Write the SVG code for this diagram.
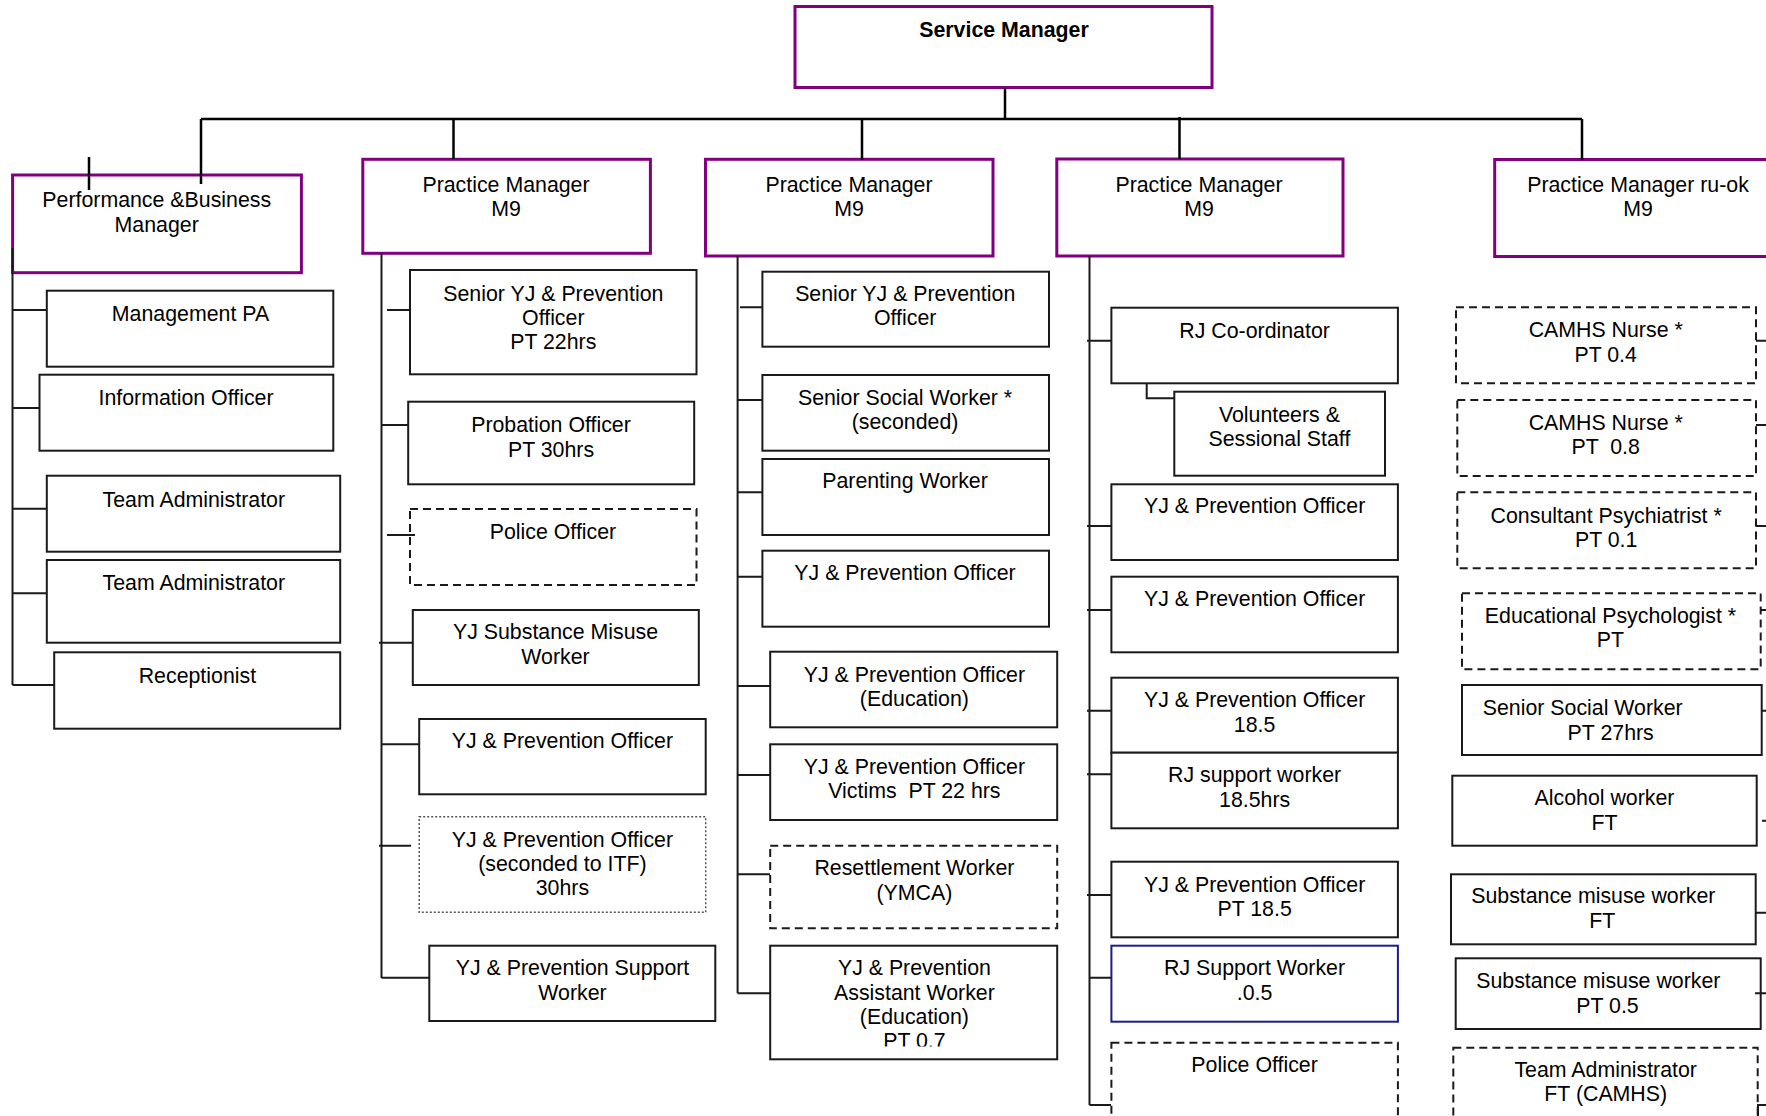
<svg xmlns="http://www.w3.org/2000/svg" width="1766" height="1116" viewBox="0 0 1766 1116">
<style>
.box{fill:#fff;stroke:#1a1a1a;stroke-width:2}
.mgr{fill:#fff;stroke:#800080;stroke-width:3}
.dash{stroke-dasharray:8 5}
.dot{stroke:#555;stroke-width:1.5;stroke-dasharray:2 2}
.blue{stroke:#1c1c8c}
.conn{stroke:#1a1a1a;stroke-width:2;fill:none}
.main{stroke:#000;stroke-width:2.5;fill:none}
text{font-family:"Liberation Sans",Arial,sans-serif;font-size:21.33px;fill:#000;text-anchor:middle}
.b{font-weight:bold}
</style>
<defs>
<clipPath id="clipAsst"><rect x="770" y="945" width="288" height="101.5"/></clipPath>
</defs>
<rect width="1766" height="1116" fill="#fff"/>
<g id="service-manager"><rect class="mgr" x="795" y="6.5" width="417" height="81"/><text class="b" x="1004" y="36.7">Service Manager</text></g>
<g id="perf-manager"><rect class="mgr" x="12.6" y="175" width="288.8" height="97.7"/><text x="156.7" y="207.3">Performance &amp;Business</text><text x="156.7" y="231.7">Manager</text></g>
<g id="pm1"><rect class="mgr" x="362.8" y="159.3" width="287.6" height="94"/><text x="506" y="191.7">Practice Manager</text><text x="506" y="216">M9</text></g>
<g id="pm2"><rect class="mgr" x="705.5" y="159.3" width="287.5" height="96.7"/><text x="849" y="191.7">Practice Manager</text><text x="849" y="216">M9</text></g>
<g id="pm3"><rect class="mgr" x="1056.8" y="159" width="286.2" height="97"/><text x="1199" y="191.7">Practice Manager</text><text x="1199" y="216">M9</text></g>
<g id="pm4"><rect class="mgr" x="1494.7" y="159.5" width="290" height="97"/><text x="1638" y="191.7">Practice Manager ru-ok</text><text x="1638" y="216">M9</text></g>

<g id="mgmt-pa"><rect class="box" x="46.8" y="290.7" width="286.5" height="76"/><text x="190.5" y="320.7">Management PA</text></g>
<g id="info-officer"><rect class="box" x="39.5" y="374.7" width="293.8" height="76"/><text x="186" y="405">Information Officer</text></g>
<g id="team-admin-1"><rect class="box" x="46.8" y="475.7" width="293.4" height="76"/><text x="193.8" y="506.7">Team Administrator</text></g>
<g id="team-admin-2"><rect class="box" x="46.8" y="560" width="293.4" height="82.7"/><text x="193.8" y="590">Team Administrator</text></g>
<g id="receptionist"><rect class="box" x="54.2" y="652.3" width="286" height="76.4"/><text x="197.4" y="683.3">Receptionist</text></g>

<g id="pm1-senior-yj"><rect class="box" x="410" y="270" width="286.5" height="104.3"/><text x="553.3" y="300.7">Senior YJ &amp; Prevention</text><text x="553.3" y="325">Officer</text><text x="553.3" y="349.3">PT 22hrs</text></g>
<g id="pm1-probation"><rect class="box" x="408.2" y="401.7" width="286" height="82.6"/><text x="551" y="431.7">Probation Officer</text><text x="551" y="456.7">PT 30hrs</text></g>
<g id="pm1-police"><rect class="box dash" x="410" y="509" width="286.5" height="76"/><text x="553" y="539.3">Police Officer</text></g>
<g id="pm1-substance"><rect class="box" x="412.8" y="610" width="286" height="75"/><text x="555.5" y="639.3">YJ Substance Misuse</text><text x="555.5" y="664">Worker</text></g>
<g id="pm1-yjpo"><rect class="box" x="419.2" y="719" width="286.5" height="75.3"/><text x="562.4" y="748.3">YJ &amp; Prevention Officer</text></g>
<g id="pm1-itf"><rect class="box dot" x="419.2" y="816.7" width="286.5" height="95.6"/><text x="562.4" y="846.7">YJ &amp; Prevention Officer</text><text x="562.4" y="870.7">(seconded to ITF)</text><text x="562.4" y="895">30hrs</text></g>
<g id="pm1-support"><rect class="box" x="429.3" y="945.7" width="286" height="75.3"/><text x="572.5" y="975">YJ &amp; Prevention Support</text><text x="572.5" y="1000">Worker</text></g>

<g id="pm2-senior-yj"><rect class="box" x="762.4" y="271.7" width="286.6" height="75"/><text x="905.2" y="300.7">Senior YJ &amp; Prevention</text><text x="905.2" y="325">Officer</text></g>
<g id="pm2-ssw"><rect class="box" x="762.4" y="375" width="286.6" height="75.7"/><text x="905" y="405">Senior Social Worker *</text><text x="905" y="429.3">(seconded)</text></g>
<g id="pm2-parenting"><rect class="box" x="762.4" y="459" width="286.6" height="76"/><text x="905" y="488.3">Parenting Worker</text></g>
<g id="pm2-yjpo"><rect class="box" x="762.4" y="550.7" width="286.6" height="76"/><text x="905" y="580">YJ &amp; Prevention Officer</text></g>
<g id="pm2-yjpo-edu"><rect class="box" x="770.2" y="651.7" width="287" height="75.6"/><text x="914.4" y="681.7">YJ &amp; Prevention Officer</text><text x="914.4" y="706">(Education)</text></g>
<g id="pm2-victims"><rect class="box" x="770.2" y="744.3" width="287" height="75.7"/><text x="914.4" y="774.3">YJ &amp; Prevention Officer</text><text x="914.4" y="798.3" xml:space="preserve">Victims  PT 22 hrs</text></g>
<g id="pm2-resettlement"><rect class="box dash" x="770.2" y="845.7" width="287" height="82.6"/><text x="914.4" y="875">Resettlement Worker</text><text x="914.4" y="900">(YMCA)</text></g>
<g id="pm2-assistant"><rect class="box" x="770.2" y="945.7" width="287" height="113.6"/><g clip-path="url(#clipAsst)"><text x="914.4" y="975">YJ &amp; Prevention</text><text x="914.4" y="1000">Assistant Worker</text><text x="914.4" y="1024">(Education)</text><text x="914.4" y="1047.7">PT 0.7</text></g></g>

<g id="pm3-rj-coord"><rect class="box" x="1111.4" y="307.7" width="286.5" height="75.6"/><text x="1254.6" y="338.3">RJ Co-ordinator</text></g>
<g id="pm3-volunteers"><rect class="box" x="1174.3" y="391.7" width="210.7" height="84"/><text x="1279.4" y="421.7">Volunteers &amp;</text><text x="1279.4" y="446">Sessional Staff</text></g>
<g id="pm3-yjpo-1"><rect class="box" x="1111.4" y="484.3" width="286.5" height="75.7"/><text x="1254.6" y="513.3">YJ &amp; Prevention Officer</text></g>
<g id="pm3-yjpo-2"><rect class="box" x="1111.4" y="576.7" width="286.5" height="75.6"/><text x="1254.6" y="606">YJ &amp; Prevention Officer</text></g>
<g id="pm3-yjpo-185"><rect class="box" x="1111.4" y="677.7" width="286.5" height="75"/><text x="1254.6" y="706.7">YJ &amp; Prevention Officer</text><text x="1254.6" y="731.7">18.5</text></g>
<g id="pm3-rj-support"><rect class="box" x="1111.4" y="752.7" width="286.5" height="75.6"/><text x="1254.6" y="781.7">RJ support worker</text><text x="1254.6" y="806.7">18.5hrs</text></g>
<g id="pm3-yjpo-pt"><rect class="box" x="1111.4" y="861.7" width="286.5" height="75.6"/><text x="1254.6" y="891.7">YJ &amp; Prevention Officer</text><text x="1254.6" y="916">PT 18.5</text></g>
<g id="pm3-rj-support-05"><rect class="box blue" x="1111.4" y="945.7" width="286.5" height="76"/><text x="1254.6" y="975">RJ Support Worker</text><text x="1254.6" y="1000">.0.5</text></g>
<g id="pm3-police"><rect class="box dash" x="1111.4" y="1042.7" width="286.5" height="100"/><text x="1254.6" y="1071.7">Police Officer</text></g>

<g id="pm4-camhs-1"><rect class="box dash" x="1456" y="307.3" width="300" height="76"/><text x="1605.7" y="337.3">CAMHS Nurse *</text><text x="1605.7" y="361.7">PT 0.4</text></g>
<g id="pm4-camhs-2"><rect class="box dash" x="1457.3" y="400" width="298.7" height="76"/><text x="1605.7" y="430">CAMHS Nurse *</text><text x="1605.7" y="454" xml:space="preserve">PT  0.8</text></g>
<g id="pm4-psychiatrist"><rect class="box dash" x="1457.3" y="492.3" width="298.7" height="76"/><text x="1606.2" y="522.7">Consultant Psychiatrist *</text><text x="1606.2" y="546.7">PT 0.1</text></g>
<g id="pm4-psychologist"><rect class="box dash" x="1462" y="593.3" width="298.7" height="76"/><text x="1610.5" y="623.3">Educational Psychologist *</text><text x="1610.5" y="647.3">PT</text></g>
<g id="pm4-ssw"><rect class="box" x="1462" y="685" width="299.7" height="70"/><text x="1582.7" y="715">Senior Social Worker</text><text x="1610.7" y="740">PT 27hrs</text></g>
<g id="pm4-alcohol"><rect class="box" x="1452.3" y="775.7" width="304.4" height="70"/><text x="1604.5" y="805">Alcohol worker</text><text x="1604.5" y="830">FT</text></g>
<g id="pm4-substance-ft"><rect class="box" x="1451" y="874.3" width="304.7" height="70"/><text x="1593.3" y="903.3">Substance misuse worker</text><text x="1602.3" y="928.3">FT</text></g>
<g id="pm4-substance-pt"><rect class="box" x="1455.7" y="958.3" width="305" height="70.7"/><text x="1598.3" y="988.3">Substance misuse worker</text><text x="1607.5" y="1012.7">PT 0.5</text></g>
<g id="pm4-team-admin"><rect class="box dash" x="1453.3" y="1047.7" width="304.4" height="100"/><text x="1605.7" y="1077.3">Team Administrator</text><text x="1605.7" y="1100.7">FT (CAMHS)</text></g>

<g id="connectors">
<path class="main" d="M1005 88V119M201 119H1582M201 119V184M453.5 119V159M862 119V160M1179.5 117V159M1582 119V160M89 157V190"/>
<path class="conn" d="M12.5 248V685M12.5 310H47M12.5 408H39.5M12.5 508.7H47M12.5 593.3H47M12.5 685H54"/>
<path class="conn" d="M381.5 253V978M387 310H410M381.5 425H408M387 535H415M379 642.7H413M381.5 744.3H419M379 845.7H411M381.5 977.7H429"/>
<path class="conn" d="M737.6 256V993.3M740 307.3H762M737.6 400H762M736.7 492.3H762M737.6 576.7H762M737.6 686H770M737.6 775H770M737.6 874.3H770M737.6 993.3H770"/>
<path class="conn" d="M1089.5 256V1105M1087 340.7H1111M1146.7 383V398.3H1174M1087 526H1111M1087 610H1111M1087 710.7H1111M1087 774.3H1111M1087 895H1111M1089.5 977.7H1111M1089.5 1105H1111"/>
<path class="conn" d="M1756 340.7H1766M1756 425H1766M1756 526H1766M1760.7 610H1766M1761.7 710.7H1766M1762 820.7H1766M1755.7 912.7H1766M1755 993.3H1766M1758 1116V1105H1766"/>
</g>
</svg>
